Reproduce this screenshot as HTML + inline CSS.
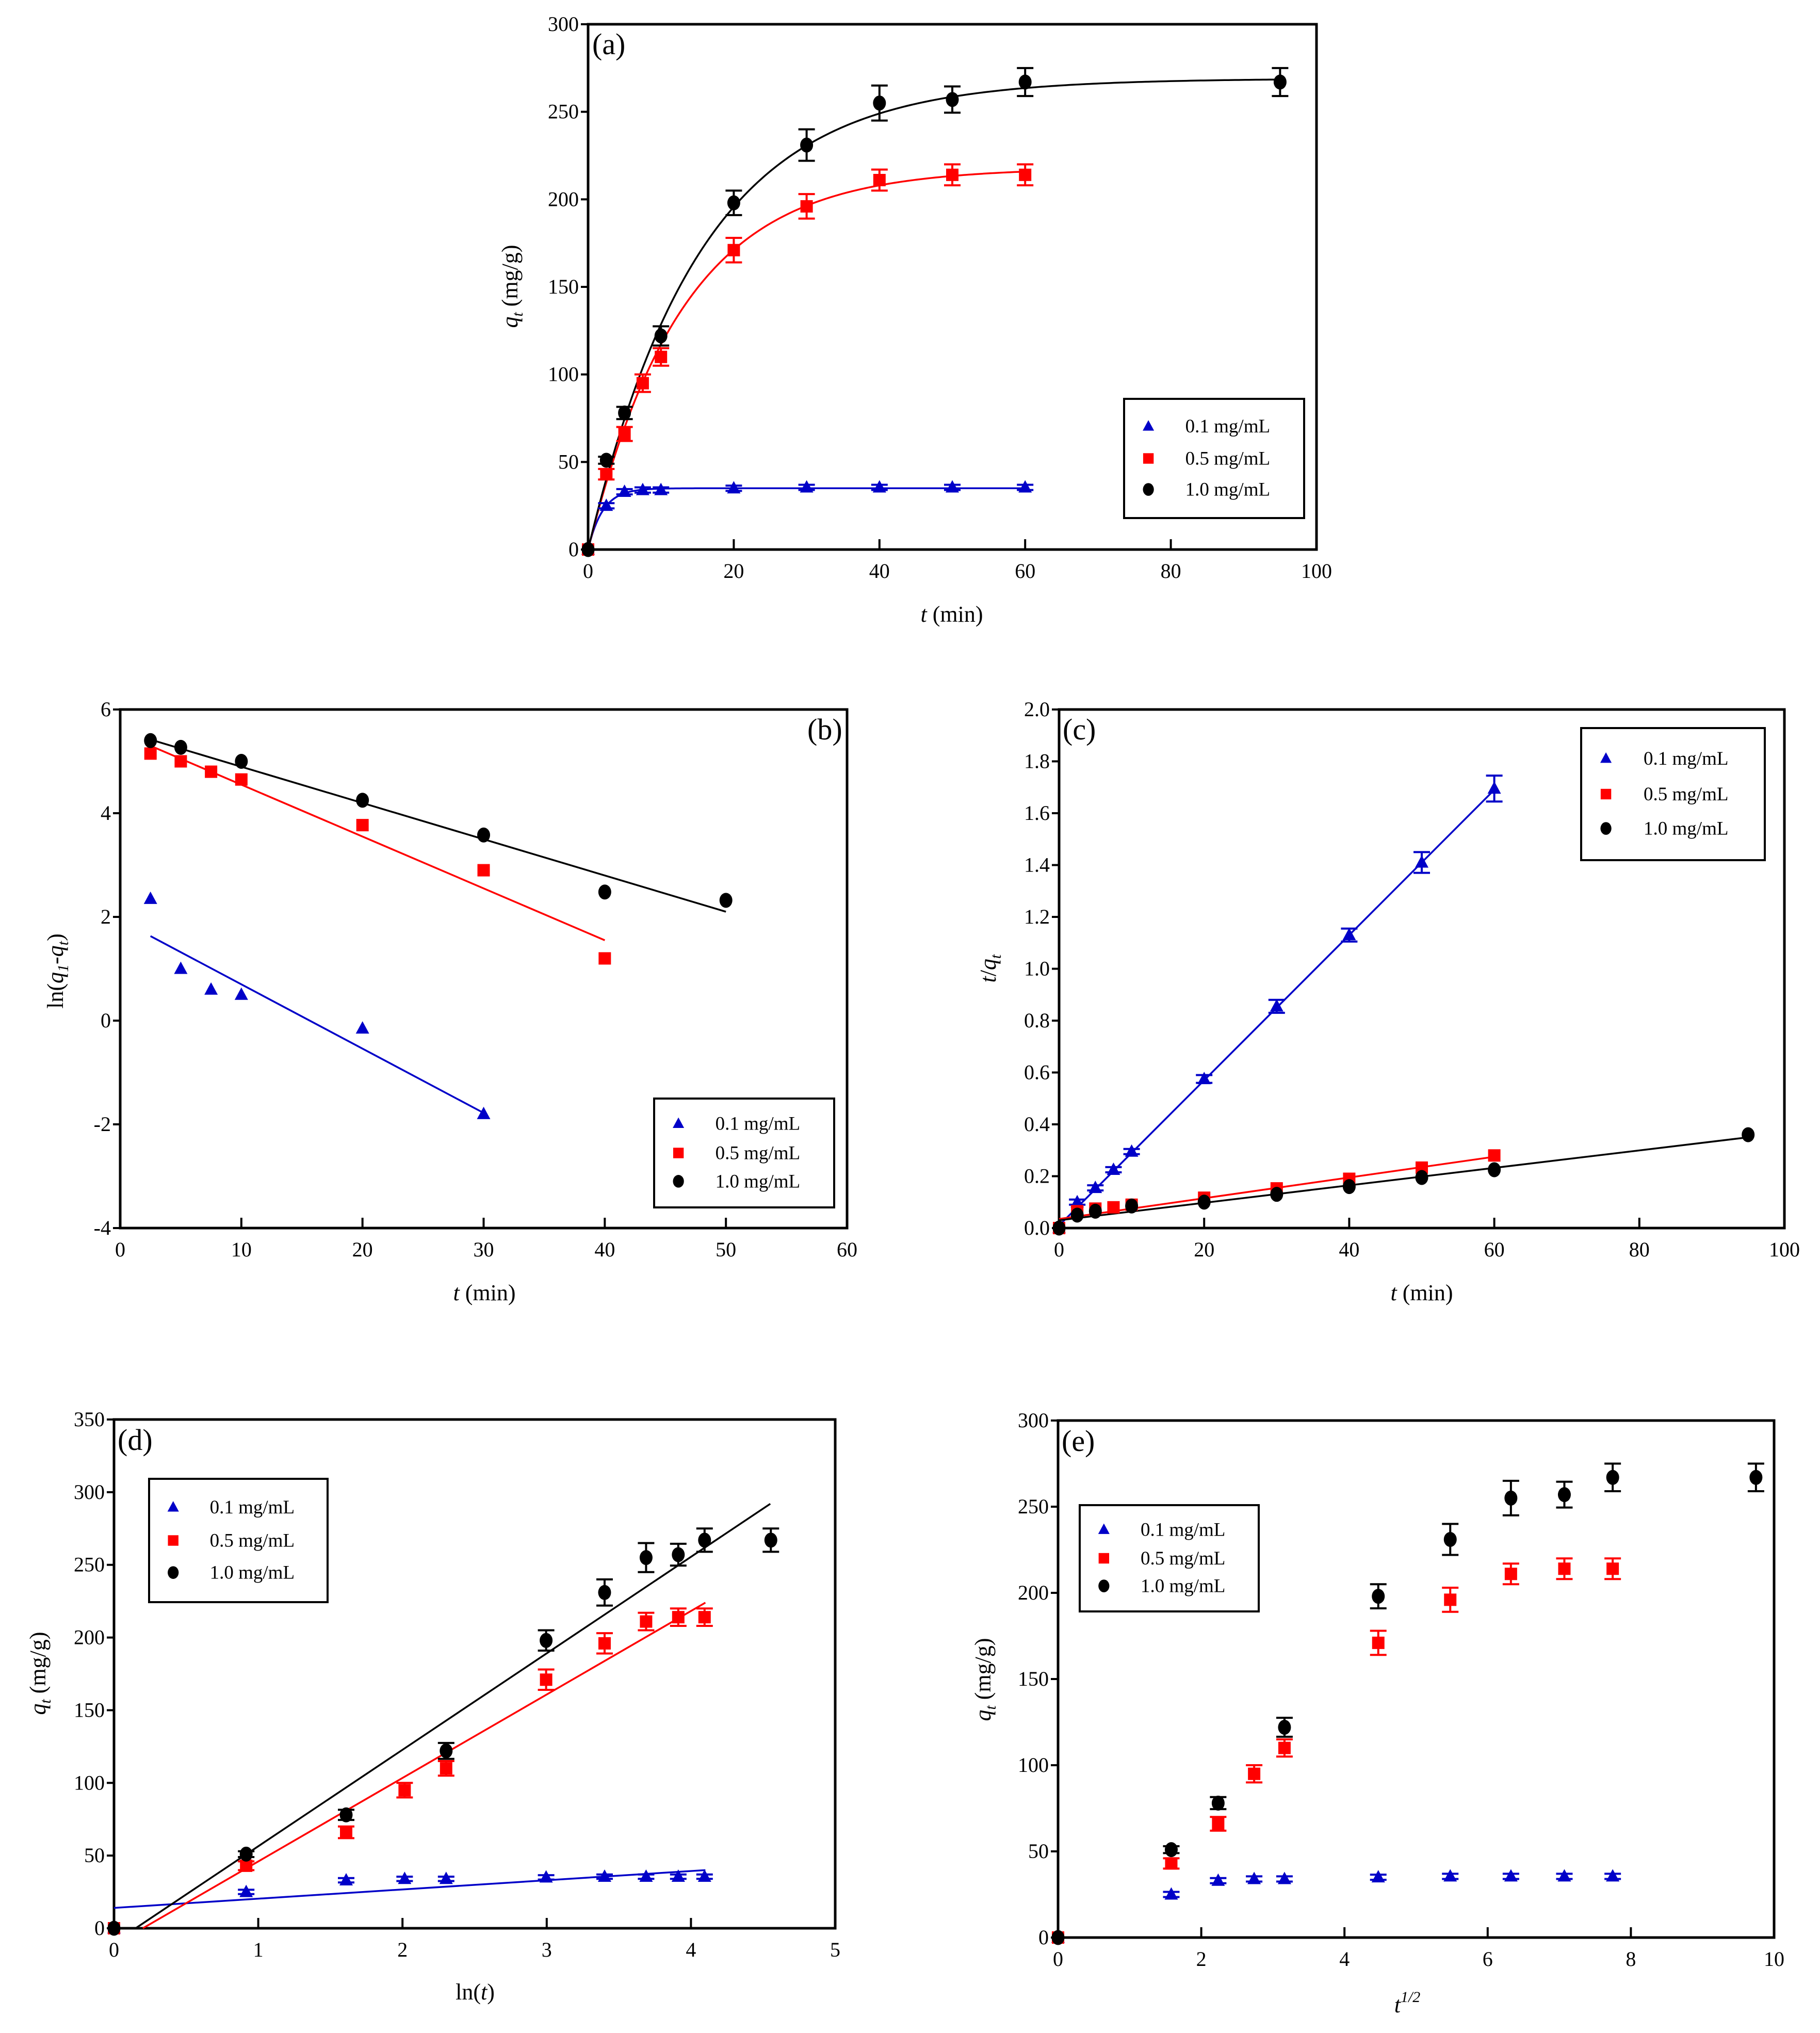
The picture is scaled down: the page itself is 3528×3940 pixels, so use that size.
<!DOCTYPE html>
<html><head><meta charset="utf-8"><title>Adsorption kinetics</title>
<style>
html,body{margin:0;padding:0;background:#fff;}
svg{display:block;font-family:"Liberation Serif","DejaVu Serif",serif;}
text{font-family:"Liberation Serif","DejaVu Serif",serif;}
</style></head>
<body>
<svg id="fig" xmlns="http://www.w3.org/2000/svg" width="3528" height="3940" viewBox="0 0 3528 3940" font-family="Liberation Serif, DejaVu Serif, serif"></svg>
<script>
// ---------- data ----------
const tA = [0,2.5,5,7.5,10,20,30,40,50,60];
const tC = [0,2.5,5,10,20,30,40,50,60,95];
const q01 = [0,25,33,34,34,35,35.5,35.5,35.5,35.5];
const q05 = [0,43,66,95,110,171,196,211,214,214];
const q10 = [0,51,78,122,198,231,255,257,267,267];
const e01 = [0,1.5,1.5,1.5,1.5,1.5,1.5,1.5,1.5,1.5];
const e05 = [0,3,4,5,5,7,7,6,6,6];
const e10 = [0,2,3.5,5.5,7,9,10,7.5,8,8];
// pseudo-first-order fit parameters (panel a)
const fitQe = [35,218,269];
const fitK = [0.5,0.077,0.065];
const fitTmax = [60,60,95];
// panel b
const tB01 = [2.5,5,7.5,10,20,30];
const lnB01 = [2.35,1.0,0.6,0.5,-0.15,-1.8];
const tB05 = [2.5,5,7.5,10,20,30,40];
const lnB05 = [5.15,5.0,4.8,4.65,3.77,2.9,1.2];
const tB10 = [2.5,5,10,20,30,40,50];
const lnB10 = [5.4,5.27,5.0,4.25,3.58,2.48,2.32];
const lineB01 = [[2.5,1.63],[30,-1.78]];
const lineB05 = [[2.5,5.3],[40,1.55]];
const lineB10 = [[2.5,5.42],[50,2.1]];
// panel c
const tq01 = [0,0.1,0.155,0.225,0.295,0.575,0.855,1.13,1.41,1.695];
const tq05 = [0,0.065,0.075,0.08,0.09,0.117,0.153,0.19,0.233,0.28];
const tq10 = [0,0.05,0.065,0.085,0.1,0.13,0.16,0.195,0.225,0.36];
const etq01 = [0,0.01,0.01,0.01,0.01,0.015,0.025,0.025,0.04,0.05];
const lineC01 = [[0,0.01],[60,1.69]];
const lineC05 = [[0,0.035],[60,0.275]];
const lineC10 = [[0,0.03],[95,0.35]];
// panel d
const lineD01 = [[0,14],[4.1,40]];
const lineD05 = [[0.2,0],[4.1,224]];
const lineD10 = [[0.15,0],[4.55,292]];
const seriesLabels = ["0.1 mg/mL","0.5 mg/mL","1.0 mg/mL"];
const colors = ["#0000c8","#ff0000","#000000"];
const markers = ["tri","sq","circ"];

const NS="http://www.w3.org/2000/svg";
const FONT="Liberation Serif, DejaVu Serif, serif";
const fig=document.getElementById('fig');
function mk(tag,attrs,parent){const e=document.createElementNS(NS,tag);for(const k in attrs)e.setAttribute(k,attrs[k]);if(tag==='text')e.setAttribute('font-family',FONT);(parent||fig).appendChild(e);return e;}

function makePanel(p){
  const g=mk('g',{});
  
  
  const X=v=>p.x0+(v-p.xmin)/(p.xmax-p.xmin)*(p.x1-p.x0);
  const Y=v=>p.y1-(v-p.ymin)/(p.ymax-p.ymin)*(p.y1-p.y0);
  p.X=X;p.Y=Y;p.g=g;
  p.xticks.forEach(v=>{
    const l=mk('line',{x1:X(v),x2:X(v),y1:p.y1,y2:p.y1-20,stroke:'#000','stroke-width':4},g);
    
    
    const t=mk('text',{x:X(v),y:p.y1+55,'text-anchor':'middle','font-size':40},g);
    
    
    t.textContent=p.xfmt?p.xfmt(v):v;
  });
  p.yticks.forEach(v=>{
    const l=mk('line',{x1:p.x0,x2:p.x0-14,y1:Y(v),y2:Y(v),stroke:'#000','stroke-width':4},g);
    
    
    const t=mk('text',{x:p.x0-18,y:Y(v)+13,'text-anchor':'end','font-size':40},g);
    
    
    t.textContent=p.yfmt?p.yfmt(v):v;
  });
  const fr=mk('rect',{x:p.x0,y:p.y0,width:p.x1-p.x0,height:p.y1-p.y0,fill:'none',stroke:'#000','stroke-width':5},g);
  
  
  const lab=mk('text',{x:p.lx,y:p.ly,'font-size':58},g);
  
  
  lab.textContent='('+p.id+')';
  const xt=mk('text',{x:p.xtx,y:p.xty,'text-anchor':'middle','font-size':44},g);
  
  
  xt.innerHTML=p.xtitle;
  const yt=mk('text',{x:0,y:0,'text-anchor':'middle','font-size':44,transform:`translate(${p.ytx},${p.yty}) rotate(-90)`},g);
  
  
  yt.innerHTML=p.ytitle;
  return p;
}
function marker(g,type,cx,cy,color,s){
  let m;
  if(type==='tri') m=mk('polygon',{points:`${cx},${cy-14*s} ${cx-13*s},${cy+10*s} ${cx+13*s},${cy+10*s}`,fill:color},g);
  else if(type==='sq') m=mk('rect',{x:cx-12*s,y:cy-12*s,width:24*s,height:24*s,fill:color},g);
  else m=mk('ellipse',{cx:cx,cy:cy,rx:12.5*s,ry:14.5*s,fill:color},g);
  return m;
}
function drawPoints(p,xs,ys,es,si,name){
  xs.forEach((xv,i)=>{
    const cx=p.X(xv),cy=p.Y(ys[i]);
    if(es&&es[i]>0){
      const e=es[i];
      const gy1=p.Y(ys[i]+e),gy2=p.Y(ys[i]-e);
      const eb=mk('path',{d:`M${cx},${gy1}V${gy2}M${cx-16},${gy1}H${cx+16}M${cx-16},${gy2}H${cx+16}`,stroke:colors[si],'stroke-width':4,fill:'none'},p.g);
      
      
    }
    const m=marker(p.g,markers[si],cx,cy,colors[si],1);
    
    
  });
}
function drawLine(p,seg,si,name){
  const l=mk('line',{x1:p.X(seg[0][0]),y1:p.Y(seg[0][1]),x2:p.X(seg[1][0]),y2:p.Y(seg[1][1]),stroke:colors[si],'stroke-width':3.5},p.g);
  
  
}
function legend(p,bx,by,bw,bh){
  const lg=mk('g',{},p.g);
  
  
  const r=mk('rect',{x:bx,y:by,width:bw,height:bh,fill:'#fff',stroke:'#000','stroke-width':4},lg);
  
  
  const fr=[0.23,0.5,0.76];
  seriesLabels.forEach((s,i)=>{
    const cy=by+fr[i]*bh;
    const m=marker(lg,markers[i],bx+0.135*bw,cy,colors[i],0.85);
    
    
    const t=mk('text',{x:bx+0.34*bw,y:cy+12,'font-size':37},lg);
    
    
    t.textContent=s;
  });
}
const range=(a,b,s)=>{const r=[];for(let v=a;v<=b+1e-9;v+=s)r.push(+v.toFixed(4));return r;};
const qtTitle='<tspan font-style="italic">q</tspan><tspan font-style="italic" font-size="30" dy="10">t</tspan><tspan dy="-10"> (mg/g)</tspan>';
const tminTitle='<tspan font-style="italic">t</tspan> (min)';

// ---------- panel a ----------
const A=makePanel({id:'a',x0:1140,x1:2552,y0:47,y1:1065,xmin:0,xmax:100,ymin:0,ymax:300,
  xticks:range(0,100,20),yticks:range(0,300,50),lx:1148,ly:105,
  xtitle:tminTitle,xtx:1845,xty:1205,ytitle:qtTitle,ytx:1003,yty:555});
[0,1,2].forEach(si=>{
  let d='';
  for(let i=0;i<=200;i++){const t=fitTmax[si]*i/200;const q=fitQe[si]*(1-Math.exp(-fitK[si]*t));d+=(i?'L':'M')+A.X(t)+','+A.Y(q);}
  const c=mk('path',{d:d,fill:'none',stroke:colors[si],'stroke-width':3.5},A.g);
  
  
});
drawPoints(A,tA,q01,e01,0,'a-0.1');
drawPoints(A,tA,q05,e05,1,'a-0.5');
drawPoints(A,tC,q10,e10,2,'a-1.0');
legend(A,2179,773,349,231);

// ---------- panel b ----------
const B=makePanel({id:'b',x0:233,x1:1642,y0:1375,y1:2380,xmin:0,xmax:60,ymin:-4,ymax:6,
  xticks:range(0,60,10),yticks:range(-4,6,2),lx:1565,ly:1433,
  xtitle:tminTitle,xtx:939,xty:2520,
  ytitle:'ln(<tspan font-style="italic">q</tspan><tspan font-style="italic" font-size="30" dy="10">1</tspan><tspan dy="-10">-</tspan><tspan font-style="italic">q</tspan><tspan font-style="italic" font-size="30" dy="10">t</tspan><tspan dy="-10">)</tspan>',ytx:122,yty:1882});
drawLine(B,lineB01,0,'b-fit-0.1');drawLine(B,lineB05,1,'b-fit-0.5');drawLine(B,lineB10,2,'b-fit-1.0');
drawPoints(B,tB01,lnB01,null,0,'b-0.1');
drawPoints(B,tB05,lnB05,null,1,'b-0.5');
drawPoints(B,tB10,lnB10,null,2,'b-1.0');
legend(B,1268,2129,349,211);

// ---------- panel c ----------
const C=makePanel({id:'c',x0:2053,x1:3459,y0:1375,y1:2380,xmin:0,xmax:100,ymin:0,ymax:2,
  xticks:range(0,100,20),yticks:range(0,2,0.2),yfmt:v=>v.toFixed(1),lx:2060,ly:1433,
  xtitle:tminTitle,xtx:2756,xty:2520,
  ytitle:'<tspan font-style="italic">t</tspan>/<tspan font-style="italic">q</tspan><tspan font-style="italic" font-size="30" dy="10">t</tspan>',ytx:1930,yty:1877});
drawLine(C,lineC01,0,'c-fit-0.1');drawLine(C,lineC05,1,'c-fit-0.5');drawLine(C,lineC10,2,'c-fit-1.0');
drawPoints(C,tA,tq01,etq01,0,'c-0.1');
drawPoints(C,tA,tq05,null,1,'c-0.5');
drawPoints(C,tC,tq10,null,2,'c-1.0');
legend(C,3065,1411,356,256);

// ---------- panel d ----------
const lnt=a=>a.map(v=>v>0?Math.log(v):0);
const D=makePanel({id:'d',x0:221,x1:1619,y0:2751,y1:3737,xmin:0,xmax:5,ymin:0,ymax:350,
  xticks:range(0,5,1),yticks:range(0,350,50),lx:228,ly:2810,
  xtitle:'ln(<tspan font-style="italic">t</tspan>)',xtx:921,xty:3875,ytitle:qtTitle,ytx:88,yty:3243});
drawLine(D,lineD01,0,'d-fit-0.1');drawLine(D,lineD05,1,'d-fit-0.5');drawLine(D,lineD10,2,'d-fit-1.0');
drawPoints(D,lnt(tA),q01,e01,0,'d-0.1');
drawPoints(D,lnt(tA),q05,e05,1,'d-0.5');
drawPoints(D,lnt(tC),q10,e10,2,'d-1.0');
legend(D,289,2866,346,239);

// ---------- panel e ----------
const sq=a=>a.map(v=>Math.sqrt(v));
const E=makePanel({id:'e',x0:2051,x1:3439,y0:2753,y1:3755,xmin:0,xmax:10,ymin:0,ymax:300,
  xticks:range(0,10,2),yticks:range(0,300,50),lx:2058,ly:2812,
  xtitle:'<tspan font-style="italic">t</tspan><tspan font-style="italic" font-size="30" dy="-20">1/2</tspan>',xtx:2728,xty:3900,ytitle:qtTitle,ytx:1920,yty:3255});
drawPoints(E,sq(tA),q01,e01,0,'e-0.1');
drawPoints(E,sq(tA),q05,e05,1,'e-0.5');
drawPoints(E,sq(tC),q10,e10,2,'e-1.0');
legend(E,2093,2917,347,206);
</script>
</body></html>
